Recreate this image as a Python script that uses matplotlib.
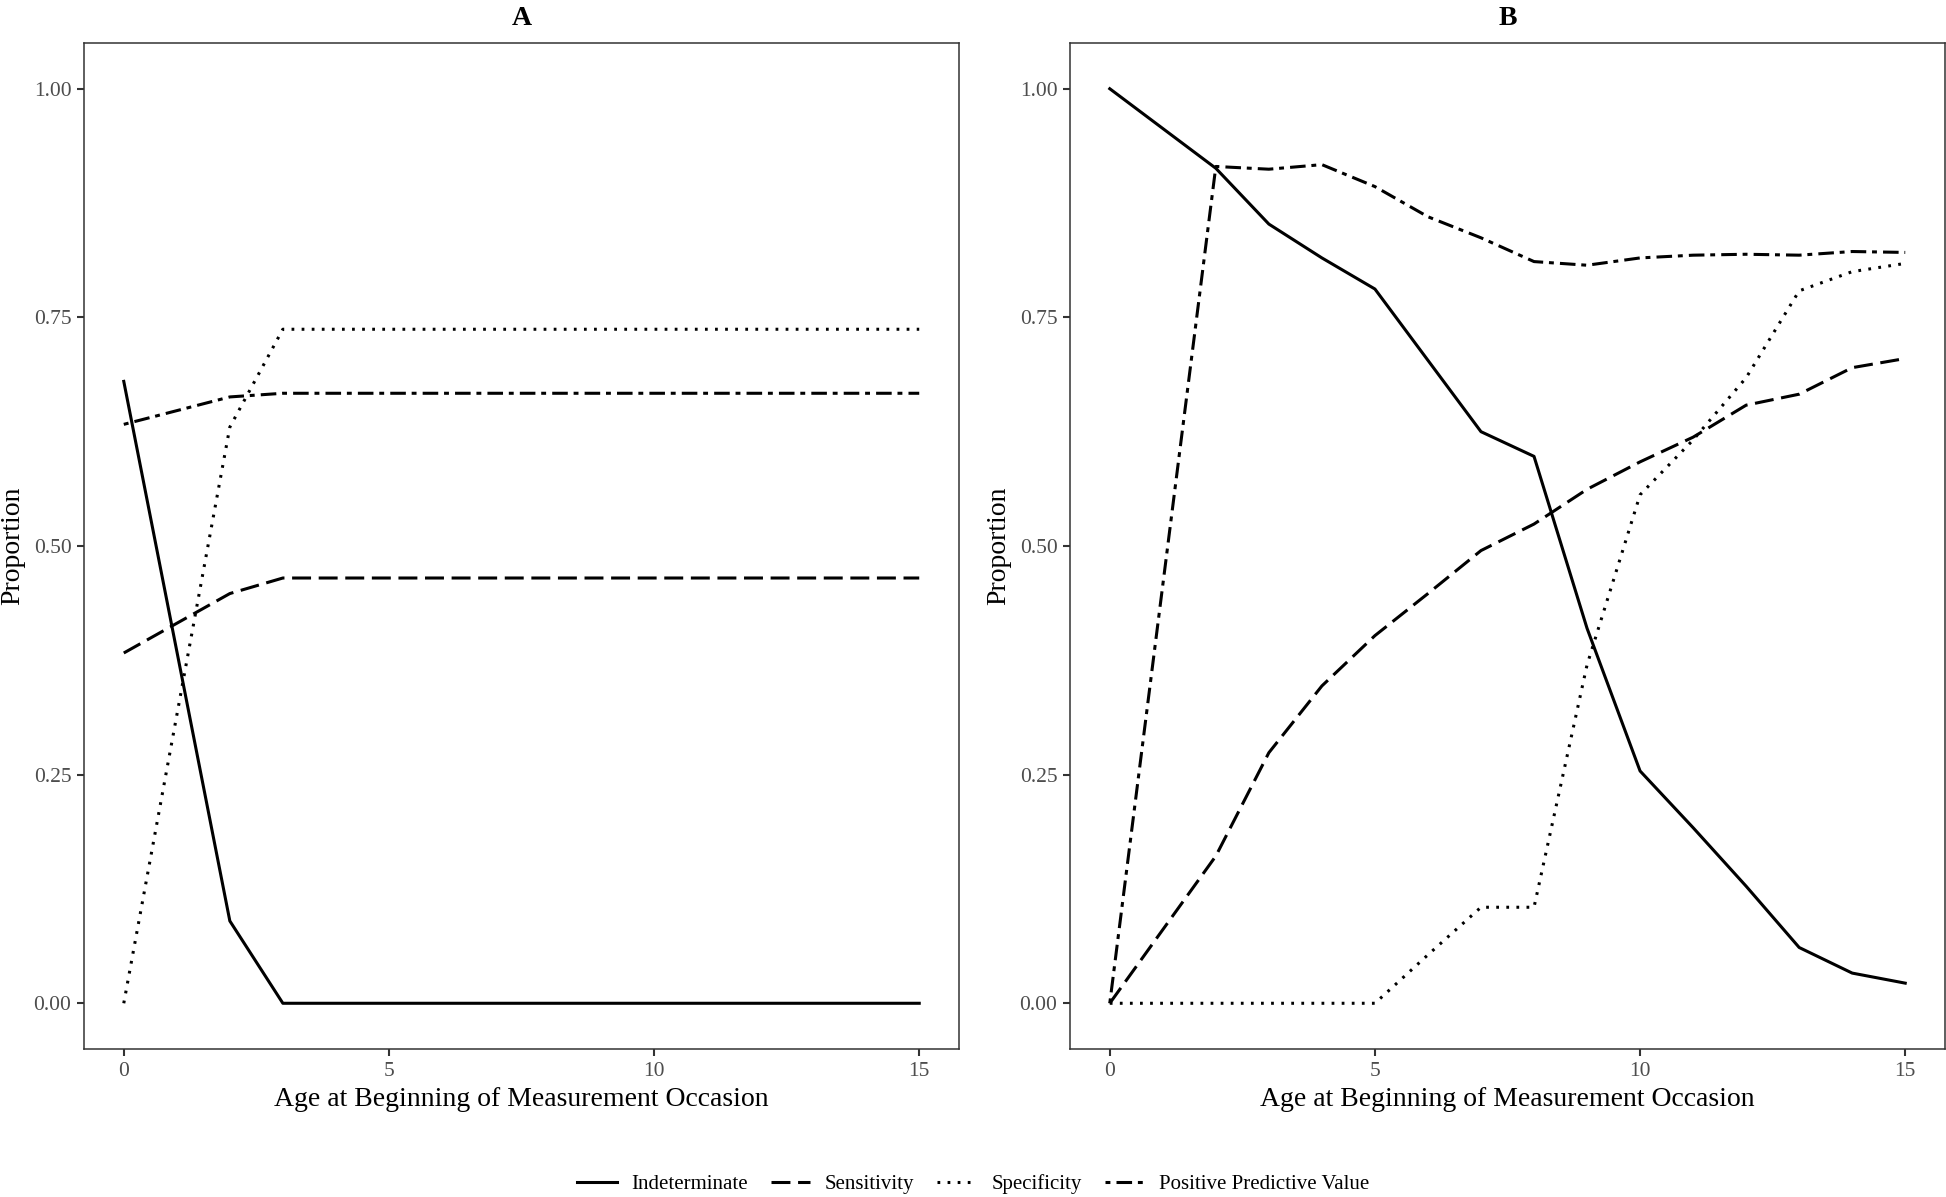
import matplotlib.pyplot as plt
from matplotlib.lines import Line2D

plt.rcParams['font.family'] = ['Liberation Serif', 'DejaVu Serif']

ages = [0, 2, 3, 4, 5, 6, 7, 8, 9, 10, 11, 12, 13, 14, 15]

# panel A
a_indet = [0.680, 0.090, 0, 0, 0, 0, 0, 0, 0, 0, 0, 0, 0, 0, 0]
a_sens = [0.383, 0.448, 0.465, 0.465, 0.465, 0.465, 0.465, 0.465, 0.465, 0.465, 0.465, 0.465, 0.465, 0.465, 0.465]
a_spec = [0.0, 0.630, 0.737, 0.737, 0.737, 0.737, 0.737, 0.737, 0.737, 0.737, 0.737, 0.737, 0.737, 0.737, 0.737]
a_ppv = [0.633, 0.663, 0.667, 0.667, 0.667, 0.667, 0.667, 0.667, 0.667, 0.667, 0.667, 0.667, 0.667, 0.667, 0.667]

# panel B
b_indet = [1.0, 0.913, 0.852, 0.815, 0.781, 0.703, 0.625, 0.598, 0.410, 0.254, 0.192, 0.128, 0.061, 0.033, 0.022]
b_sens = [0.0, 0.161, 0.274, 0.347, 0.402, 0.448, 0.495, 0.524, 0.562, 0.592, 0.619, 0.654, 0.666, 0.695, 0.705]
b_spec = [0.0, 0.0, 0.0, 0.0, 0.0, 0.053, 0.105, 0.105, 0.370, 0.556, 0.616, 0.684, 0.779, 0.800, 0.809]
b_ppv = [0.0, 0.915, 0.912, 0.917, 0.893, 0.860, 0.837, 0.811, 0.807, 0.815, 0.818, 0.819, 0.818, 0.822, 0.821]

labels = ['Indeterminate', 'Sensitivity', 'Specificity', 'Positive Predictive Value']
styles = ['-', (0, (6.2, 2.5)), (0, (0.9, 2.4)), (0, (1.6, 2.0, 5.1, 1.9))]
lw = 2.2

fig = plt.figure(figsize=(19.46, 11.97), dpi=100)
axA = fig.add_axes([84/1946, 1-1049/1197, (959-84)/1946, (1049-43)/1197])
axB = fig.add_axes([1070/1946, 1-1049/1197, (1945-1070)/1946, (1049-43)/1197])

for ax, series, title in [(axA, [a_indet, a_sens, a_spec, a_ppv], 'A'),
                          (axB, [b_indet, b_sens, b_spec, b_ppv], 'B')]:
    for vals, ls in zip(series, styles):
        ax.plot(ages, vals, color='black', linestyle=ls, linewidth=lw)
    ax.set_xlim(-0.75, 15.75)
    ax.set_ylim(-0.05, 1.05)
    ax.set_xticks([0, 5, 10, 15])
    ax.set_yticks([0, 0.25, 0.5, 0.75, 1.0])
    ax.set_yticklabels(['0.00', '0.25', '0.50', '0.75', '1.00'])
    ax.tick_params(length=5, width=1.5, color='#333333', labelsize=15.5,
                   labelcolor='#4D4D4D', pad=4)
    for s in ax.spines.values():
        s.set_color('#333333')
        s.set_linewidth(1.1)
    ax.set_xlabel('Age at Beginning of Measurement Occasion', fontsize=20, labelpad=5)
    ax.set_ylabel('Proportion', fontsize=20, labelpad=6)
    ax.set_title(title, fontsize=20, fontweight='bold', pad=13)

handles = [Line2D([], [], color='black', linestyle=ls, linewidth=lw) for ls in styles]
fig.legend(handles, labels, loc='center', bbox_to_anchor=(0.5, 1-1184/1197), ncol=4,
           frameon=False, fontsize=15, handlelength=1.9, handletextpad=0.7,
           columnspacing=1.1)

fig.savefig('out.png', dpi=100)
